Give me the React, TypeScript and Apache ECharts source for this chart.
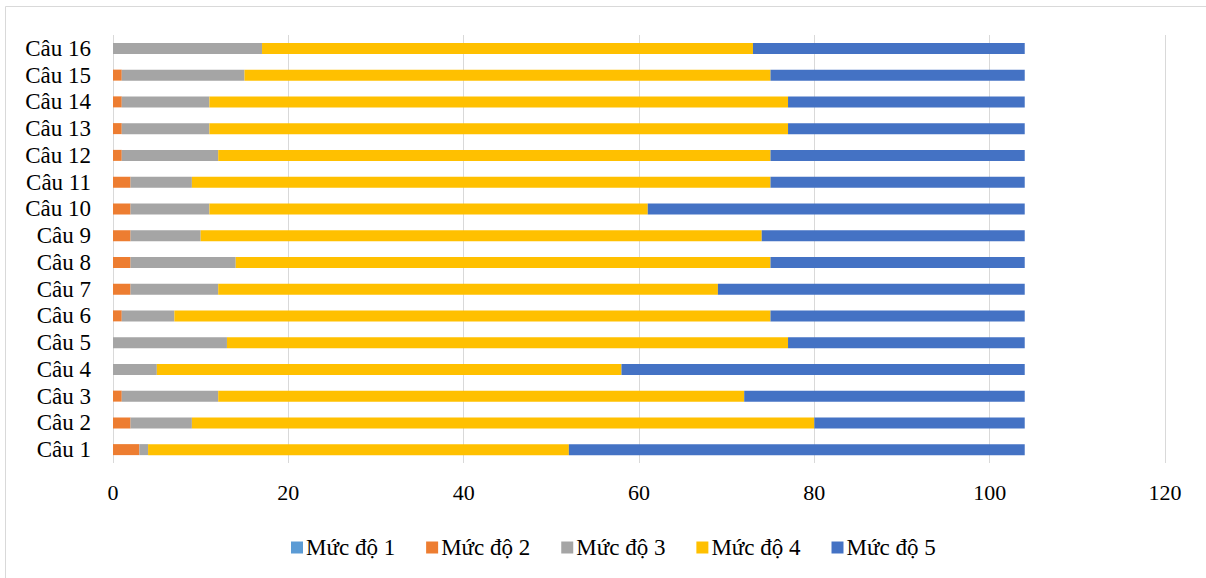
import React, { useEffect, useRef } from "react";
import * as echarts from "echarts";

const categories = [
  "Câu 1", "Câu 2", "Câu 3", "Câu 4", "Câu 5", "Câu 6", "Câu 7", "Câu 8",
  "Câu 9", "Câu 10", "Câu 11", "Câu 12", "Câu 13", "Câu 14", "Câu 15", "Câu 16",
];
const level1 = [0, 0, 0, 0, 0, 0, 0, 0, 0, 0, 0, 0, 0, 0, 0, 0];
const level2 = [3, 2, 1, 0, 0, 1, 2, 2, 2, 2, 2, 1, 1, 1, 1, 0];
const level3 = [1, 7, 11, 5, 13, 6, 10, 12, 8, 9, 7, 11, 10, 10, 14, 17];
const level4 = [48, 71, 60, 53, 64, 68, 57, 61, 64, 50, 66, 63, 66, 66, 60, 56];
const level5 = [52, 24, 32, 46, 27, 29, 35, 29, 30, 43, 29, 29, 27, 27, 29, 31];
const seriesNames = ["Mức độ 1", "Mức độ 2", "Mức độ 3", "Mức độ 4", "Mức độ 5"];
const seriesColors = ["#5B9BD5", "#ED7D31", "#A5A5A5", "#FFC000", "#4472C4"];
const seriesData = [level1, level2, level3, level4, level5];

const FONT = "'Liberation Serif', 'Times New Roman', serif";

export default function App() {
  const ref = useRef<HTMLDivElement>(null);
  useEffect(() => {
    if (!ref.current) return;
    const chart = echarts.init(ref.current, null, { renderer: "svg" });
    chart.setOption({
      animation: false,
      backgroundColor: "#ffffff",
      graphic: [
        {
          type: "rect",
          shape: { x: 5.5, y: 6.5, width: 1220, height: 620 },
          style: { fill: "none", stroke: "#d9d9d9", lineWidth: 1 },
          silent: true,
        },
      ],
      grid: { left: 113, right: 41, top: 35, bottom: 115 },
      xAxis: {
        type: "value",
        min: 0,
        max: 120,
        interval: 20,
        axisLine: { show: false },
        axisTick: { show: false },
        axisLabel: { fontFamily: FONT, fontSize: 22, color: "#000", margin: 18 },
        splitLine: { show: true, lineStyle: { color: "#d9d9d9", width: 1 } },
      },
      yAxis: {
        type: "category",
        data: categories,
        axisLine: { show: false },
        axisTick: { show: false },
        axisLabel: { interval: 0, fontFamily: FONT, fontSize: 23, color: "#000", margin: 22 },
      },
      legend: {
        data: seriesNames,
        top: 531,
        left: 286,
        itemWidth: 12,
        itemHeight: 12,
        itemGap: 31,
        icon: "rect",
        textStyle: { fontFamily: FONT, fontSize: 23, color: "#000", padding: [0, 0, 0, -2] },
      },
      series: seriesData.map((d, i) => ({
        name: seriesNames[i],
        type: "bar",
        stack: "total",
        data: d,
        barWidth: 11,
        itemStyle: { color: seriesColors[i] },
      })),
    });
    return () => chart.dispose();
  }, []);
  return (
    <div
      ref={ref}
      style={{ position: "absolute", left: 0, top: 0, width: 1206, height: 578 }}
    />
  );
}
